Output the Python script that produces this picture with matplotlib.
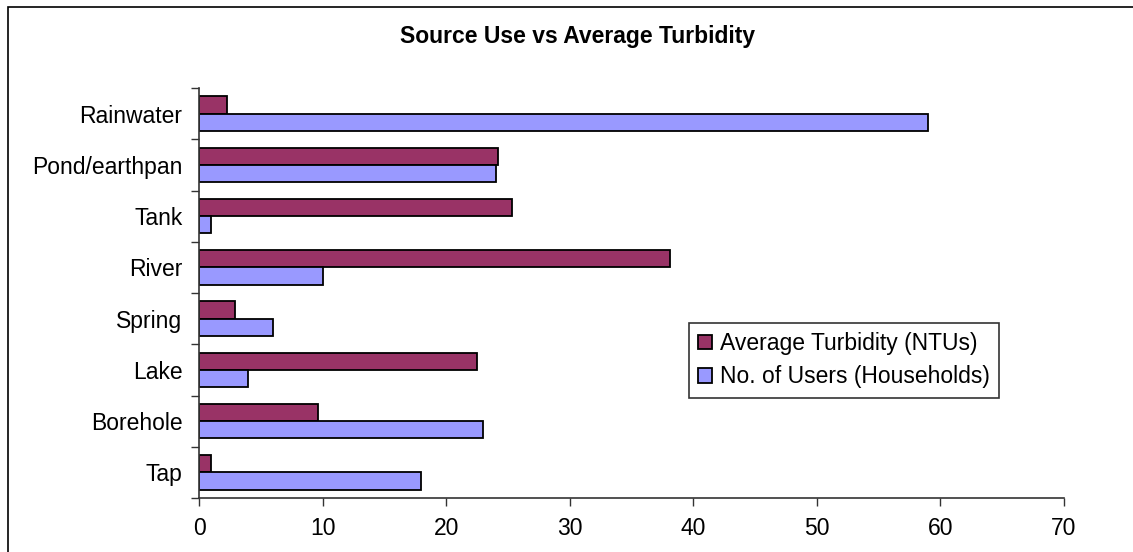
import numpy as np
import matplotlib
matplotlib.use("Agg")
import matplotlib.pyplot as plt
from matplotlib.patches import Rectangle

plt.rcParams["font.family"] = ["Liberation Sans", "DejaVu Sans"]

# data (bottom to top)
sources = ["Tap", "Borehole", "Lake", "Spring", "River", "Tank", "Pond/earthpan", "Rainwater"]
turbidity = [1.0, 9.6, 22.5, 2.9, 38.1, 25.3, 24.2, 2.3]
users = [18, 23, 4, 6, 10, 1, 24, 59]
x_ticks = [0, 10, 20, 30, 40, 50, 60, 70]

c_turb = "#993366"
c_users = "#9999FF"

W, H = 1133, 552
fig = plt.figure(figsize=(W / 100, H / 100), dpi=100)
fig.patch.set_facecolor("white")

# chart area border (only left/top visible in the crop)
fig.patches.append(Rectangle((8 / W, -0.1), 1.2, 1 - 7 / H + 0.1,
                             transform=fig.transFigure, fill=False,
                             edgecolor="black", linewidth=1.2))

ax = fig.add_axes([199 / W, 1 - 498 / H, (1064 - 199) / W, (498 - 88) / H])

y = np.arange(len(sources))
h = 0.335
ax.barh(y + h / 2, turbidity, h, color=c_turb, edgecolor="black",
        linewidth=1.3, label="Average Turbidity (NTUs)")
ax.barh(y - h / 2, users, h, color=c_users, edgecolor="black",
        linewidth=1.3, label="No. of Users (Households)")

ax.set_xlim(0, 70)
ax.set_ylim(-0.5, len(sources) - 0.5)
ax.set_xticks(x_ticks)
ax.set_xticklabels([str(t) for t in x_ticks], fontsize=16.5)

# category labels centred, ticks on group boundaries
ax.set_yticks(y)
ax.set_yticklabels(sources, fontsize=16.5)
ax.tick_params(axis="y", which="major", length=0, pad=12)
ax.set_yticks(np.arange(-0.5, len(sources)), minor=True)
ax.tick_params(axis="y", which="minor", length=6, width=1, color="#333333")
ax.tick_params(axis="x", length=6, width=1, color="#333333", pad=8)

for s in ["top", "right"]:
    ax.spines[s].set_visible(False)
for s in ["left", "bottom"]:
    ax.spines[s].set_color("#333333")
    ax.spines[s].set_linewidth(1.2)

fig.text(578 / W, 1 - 37 / H, "Source Use vs Average Turbidity",
         ha="center", va="center", fontsize=16.5, fontweight="bold")

leg = ax.legend(loc="upper left", bbox_to_anchor=(689 / W, 1 - 323 / H),
                bbox_transform=fig.transFigure, fontsize=16.5, frameon=True,
                fancybox=False, handlelength=0.6, handleheight=0.6,
                handletextpad=0.35, borderpad=0.4, labelspacing=0.45,
                borderaxespad=0)
leg.get_frame().set_edgecolor("black")
leg.get_frame().set_linewidth(1.2)

fig.savefig("out.png", dpi=100)
